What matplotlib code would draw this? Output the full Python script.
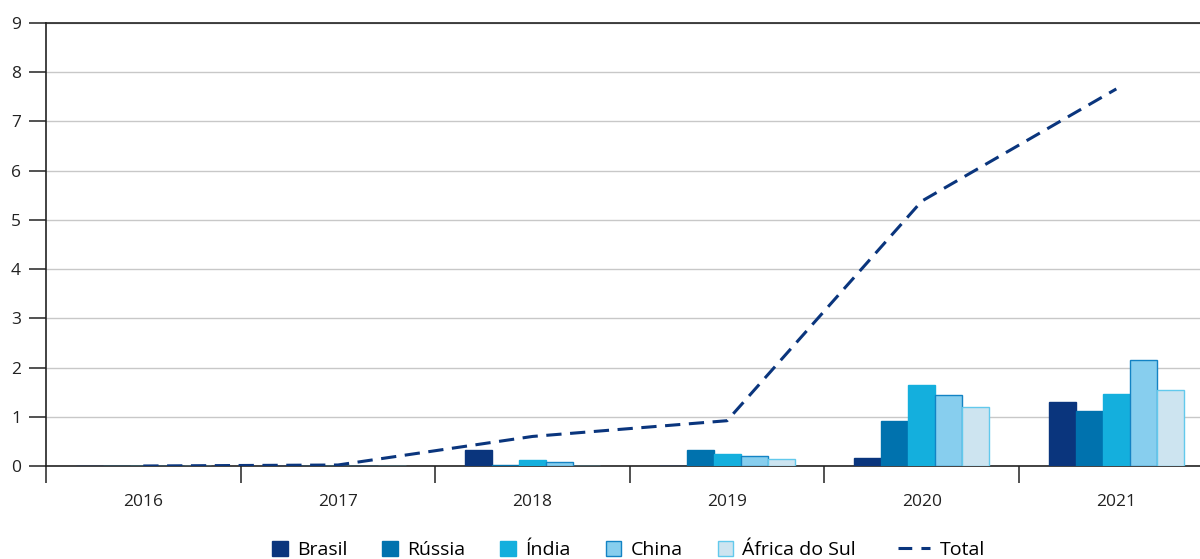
import matplotlib.pyplot as plt
import matplotlib.patches as mpatches
import matplotlib.lines as mlines
from matplotlib.legend_handler import HandlerPatch
import numpy as np

plt.rcParams['font.family'] = ['Open Sans', 'DejaVu Sans']

years = ['2016', '2017', '2018', '2019', '2020', '2021']
countries = ['Brasil', 'Rússia', 'Índia', 'China', 'África do Sul']
brasil = [0, 0, 0.33, 0, 0.17, 1.31]
russia = [0, 0, 0.03, 0.32, 0.91, 1.11]
india = [0, 0, 0.12, 0.24, 1.65, 1.46]
china = [0, 0, 0.08, 0.20, 1.44, 2.15]
africa = [0, 0, 0, 0.14, 1.19, 1.55]
total = [0, 0.02, 0.60, 0.92, 5.38, 7.66]

series = [brasil, russia, india, china, africa]
fills = ['#0A357D', '#0072AE', '#14AFDD', '#87CEEE', '#CDE4F0']
edges = ['#0A357D', '#0072AE', '#14AFDD', '#1383C4', '#62C9EC']
line_color = '#0A357D'
dash = (0, (5, 2.8))

fig = plt.figure(figsize=(12, 5.59), dpi=100)
ax = fig.add_axes([0.0383, 0.1664, 0.9617, 0.7925])

x = np.arange(len(years))
w = 0.139
for i, (vals, fc, ec) in enumerate(zip(series, fills, edges)):
    ax.bar(x + (i - 2) * w, vals, width=w, color=fc, edgecolor=ec,
           linewidth=1.0, zorder=3)

ax.plot(x, total, color=line_color, linestyle=dash, linewidth=2.2, zorder=4)

ax.set_yticks(range(10))
ax.set_xticks(x)
ax.set_xticklabels(years)
ax.set_xticks(np.arange(-0.5, 6, 1), minor=True)
ax.set_xlim(-0.5, 5.43)
ax.set_ylim(0, 9)
ax.grid(axis='y', color='#C8C8C8', linewidth=1.0, zorder=0)
ax.set_axisbelow(True)

ax.tick_params(axis='x', which='major', length=0, pad=20, labelsize=12.5,
               colors='#222222')
ax.tick_params(axis='x', which='minor', length=12, width=1.2,
               color='#333333', direction='out')
ax.tick_params(axis='y', length=12, width=1.2, color='#333333',
               labelsize=12.5, labelcolor='#222222', pad=6)

for s in ['left', 'bottom', 'top']:
    ax.spines[s].set_color('#222222')
    ax.spines[s].set_linewidth(1.2)
ax.spines['right'].set_visible(False)


# square legend patches
def square(legend, orig_handle, xdescent, ydescent, width, height, fontsize):
    s = height
    return mpatches.Rectangle((-xdescent, -ydescent), s, s)


handles = [mpatches.Patch(facecolor=fc, edgecolor=ec, linewidth=1.0, label=c)
           for c, fc, ec in zip(countries, fills, edges)]
fig.legend(handles=handles, loc='center left',
           bbox_to_anchor=(272 / 1200, 0.016), ncol=5, frameon=False,
           fontsize=14, borderpad=0, borderaxespad=0, handlelength=0.82,
           handleheight=0.85, columnspacing=1.8, handletextpad=0.46,
           handler_map={mpatches.Patch: HandlerPatch(patch_func=square)})

total_handle = mlines.Line2D([], [], color=line_color, linestyle=(0, (4.5, 3)),
                             linewidth=2.2, label='Total')
fig.legend(handles=[total_handle], loc='center left',
           bbox_to_anchor=(898 / 1200, 0.016), frameon=False, fontsize=14,
           borderpad=0, borderaxespad=0, handlelength=1.65, handletextpad=0.5)

fig.savefig('out.png', dpi=100)
